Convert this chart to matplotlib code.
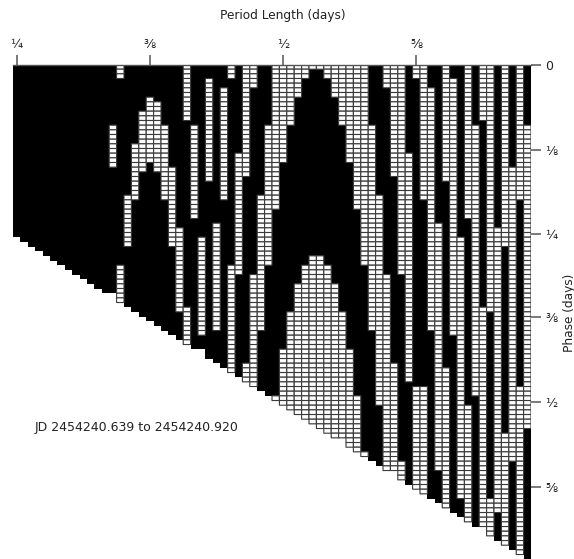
import numpy as np
import matplotlib
matplotlib.use("Agg")
import matplotlib.pyplot as plt

W, H = 574, 559
n_cols = 70
short_columns = [13, 25, 44, 51, 63]
column_rows = [37 + i - (1 if i in short_columns else 0) for i in range(n_cols)]

white_runs = {
    13: [(13, 21)], 14: [(0, 2), (43, 50)], 15: [(28, 38)], 16: [(17, 28)], 17: [(10, 22)],
    18: [(7, 20)], 19: [(8, 22)], 20: [(13, 28)], 21: [(22, 38)], 22: [(35, 52)],
    23: [(0, 11), (52, 59)], 24: [(13, 32)], 25: [(37, 57)], 26: [(3, 24)], 27: [(34, 56)],
    28: [(5, 28)], 29: [(0, 2), (43, 65)], 30: [(19, 44)], 31: [(0, 23), (64, 67)],
    32: [(0, 4), (45, 68)], 33: [(28, 56)], 34: [(13, 42)], 35: [(0, 30), (71, 71)],
    36: [(0, 20), (61, 72)], 37: [(0, 12), (53, 73)], 38: [(0, 6), (47, 74)],
    39: [(0, 2), (43, 75)], 40: [(0, 0), (41, 76)], 41: [(0, 0), (41, 77)],
    42: [(0, 2), (43, 78)], 43: [(0, 6), (47, 79)], 44: [(0, 12), (53, 79)],
    45: [(0, 20), (61, 81)], 46: [(0, 30), (71, 82)], 47: [(0, 42), (83, 83)],
    48: [(13, 56)], 49: [(28, 72)], 50: [(0, 4), (45, 86)], 51: [(0, 23), (64, 86)],
    52: [(0, 44), (85, 88)], 53: [(19, 67)], 54: [(0, 2), (69, 90)], 55: [(0, 28), (69, 91)],
    56: [(5, 56)], 57: [(34, 86)], 58: [(0, 24), (65, 94)], 59: [(3, 57)], 60: [(37, 92)],
    61: [(0, 32), (73, 97)], 62: [(13, 70)], 63: [(0, 11), (52, 98)], 64: [(0, 52), (93, 100)],
    65: [(35, 95)], 66: [(0, 38), (79, 102)], 67: [(22, 84)], 68: [(0, 28), (69, 104)],
    69: [(13, 77)],
}

x_tick_cols = [0, 18, 36, 54]
x_tick_labels = ["¼", "⅜", "½", "⅝"]
y_tick_rows = [0, 18.3, 36.3, 54.2, 72.4, 90.5]
y_tick_labels = ["0", "⅛", "¼", "⅜", "½", "⅝"]

n_rows = max(column_rows)
black = np.full((n_rows, n_cols), np.nan)
white = np.full((n_rows, n_cols), np.nan)
for c, nr in enumerate(column_rows):
    black[:nr, c] = 1
    for a, b in white_runs.get(c, []):
        white[a:b + 1, c] = 1

fig = plt.figure(figsize=(W / 100, H / 100), dpi=100, facecolor="white")
row_h = 4.667
left, right, top, bottom = 13.0, 531.0, 64.5, 559.0
ax = fig.add_axes([left / W, (H - bottom) / H, (right - left) / W, (bottom - top) / H])

xe = np.arange(n_cols + 1) - 0.5
ye = np.arange(n_rows + 1)
ax.pcolormesh(xe, ye, np.ma.masked_invalid(black), cmap=matplotlib.colors.ListedColormap(["black"]),
              linewidth=0, antialiased=False)
ax.pcolor(xe, ye, np.ma.masked_invalid(white), cmap=matplotlib.colors.ListedColormap(["white"]),
          edgecolors="#3a3a3a", linewidth=0.8)
ax.set_xlim(-0.5, n_cols - 0.5)
ax.set_ylim((bottom - top) / row_h, 0)

for s in ["bottom", "right", "left"]:
    ax.spines[s].set_visible(False)
ax.spines["top"].set_color("#555555")
ax.spines["top"].set_linewidth(1.0)

ax.xaxis.tick_top()
ax.yaxis.tick_right()
ax.set_xticks(x_tick_cols, x_tick_labels)
ax.set_yticks(y_tick_rows, y_tick_labels)
ax.tick_params(axis="x", length=7.5, width=1.1, color="#555555", labelsize=9, pad=2, labelcolor="#222222")
ax.tick_params(axis="y", length=7, width=1.1, color="#555555", labelsize=9, pad=3.5, labelcolor="#222222")

fig.text(283 / W, 1 - 15 / H, "Period Length (days)", ha="center", va="center", fontsize=8.7, color="#222222")
fig.text(569 / W, 1 - 313 / H, "Phase (days)", ha="center", va="center", rotation=90, fontsize=8.7, color="#222222")
fig.text(35 / W, 1 - 427 / H, "JD 2454240.639 to 2454240.920", ha="left", va="center", fontsize=9, color="#222222")
fig.savefig("out.png", dpi=100)
